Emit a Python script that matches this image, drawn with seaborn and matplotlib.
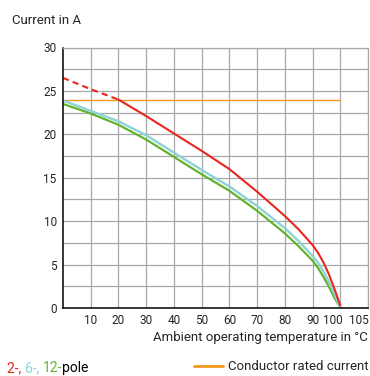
import numpy as np
import pandas as pd
import seaborn as sns
from matplotlib import pyplot as plt
from matplotlib import ticker
from matplotlib.transforms import ScaledTranslation


# derating curves
temps = [0, 10, 20, 30, 40, 50, 60, 70, 80, 85, 90, 92, 94, 96, 98, 100]
pole_2 = [26.5, 25.2, 24.0, 22.1, 20.1, 18.1, 16.0, 13.4, 10.6, 9.05, 7.25, 6.35, 5.2, 3.8, 2.1, 0.3]
pole_6 = [23.9, 22.7, 21.5, 19.9, 17.9, 15.9, 14.0, 11.75, 9.2, 7.7, 6.0, 5.2, 4.2, 2.95, 1.5, 0.1]
pole_12 = [23.5, 22.4, 21.1, 19.4, 17.4, 15.4, 13.5, 11.2, 8.6, 7.1, 5.45, 4.6, 3.55, 2.4, 1.1, 0.1]
rated_temps = [0, 100]
rated_current = [24, 24]
dash_until = 20  # 2-pole curve is dashed above the conductor rating

x_ticks = [10, 20, 30, 40, 50, 60, 70, 80, 90, 100, 105, 110]
x_labels = ["10", "20", "30", "40", "50", "60", "70", "80", "90", "100", "105", ""]
y_ticks = np.arange(0, 30.1, 2.5)
y_labels = [f"{v:g}" if v % 5 == 0 else "" for v in y_ticks]

red = "#e8261e"
cyan = "#8dd3d6"
green = "#64b22e"
orange = "#f39a1e"

df = pd.DataFrame({"T": temps, "2": pole_2, "6": pole_6, "12": pole_12})

sns.set_style("white")
plt.rcParams["font.family"] = ["Roboto", "DejaVu Sans"]

fig = plt.figure(figsize=(3.7, 3.76), dpi=100)
ax = fig.add_axes([63 / 370, 68 / 376, 305 / 370, 260.5 / 376])

sns.lineplot(x=rated_temps, y=rated_current, color=orange, lw=1.0, ax=ax,
             label="Conductor rated current")
sns.lineplot(data=df, x="T", y="12", color=green, lw=1.6, ax=ax)
sns.lineplot(data=df, x="T", y="6", color=cyan, lw=1.7, ax=ax)
sns.lineplot(data=df[df["T"] >= dash_until], x="T", y="2", color=red, lw=1.5, ax=ax)
sns.lineplot(data=df[df["T"] <= dash_until], x="T", y="2", color=red, lw=1.5,
             ax=ax, linestyle=(0, (3, 2)))

ax.set_xlim(0, 110)
ax.set_ylim(0, 30)
ax.set_xticks(x_ticks)
ax.set_xticklabels(x_labels)
ax.set_yticks(y_ticks)
ax.set_yticklabels(y_labels)
ax.xaxis.set_minor_locator(ticker.MultipleLocator(1))
ax.yaxis.set_minor_locator(ticker.MultipleLocator(0.5))
ax.tick_params(axis="both", which="major", length=3, width=0.8, labelsize=8.5, pad=1.5)
ax.tick_params(axis="both", which="minor", length=1.5, width=0.6)

ax.grid(True, which="major", color="#a8a8a8", lw=0.9)
ax.get_xgridlines()[10].set_visible(False)
ax.set_axisbelow(True)

# crowded end labels, nudge them apart like the original
shift_100 = ScaledTranslation(-7 / 100, 0, fig.dpi_scale_trans)
shift_105 = ScaledTranslation(4.5 / 100, 0, fig.dpi_scale_trans)
lbls = ax.get_xticklabels()
lbls[9].set_transform(lbls[9].get_transform() + shift_100)
lbls[10].set_transform(lbls[10].get_transform() + shift_105)

for side in ["left", "bottom"]:
    ax.spines[side].set_color("black")
    ax.spines[side].set_linewidth(1.1)
for side in ["top", "right"]:
    ax.spines[side].set_color("#a8a8a8")
    ax.spines[side].set_linewidth(0.9)

ax.set_xlabel("Ambient operating temperature in °C", fontsize=9.5, loc="right", labelpad=3)
ax.set_ylabel("")
fig.text(12 / 370, 1 - 21 / 376, "Current in A", fontsize=9.5, va="center", ha="left")

# pole count note, coloured per series
t = fig.text(7 / 370, 1 - 368 / 376, "2-, ", color=red, fontsize=10, va="center")
for txt, col in [("6-, ", cyan), ("12-", green), ("pole", "black")]:
    t = ax.annotate(txt, xy=(1, 0), xycoords=t, va="bottom", ha="left",
                    color=col, fontsize=10)

ax.legend(loc="center right", bbox_to_anchor=(1.0, 1 - 367 / 376),
          bbox_transform=fig.transFigure, frameon=False, fontsize=9.5,
          handlelength=2.2, handletextpad=0.35, borderaxespad=0.1,
          borderpad=0)
ax.get_legend().get_lines()[0].set_linewidth(2.0)

fig.savefig("out.png", dpi=100)
